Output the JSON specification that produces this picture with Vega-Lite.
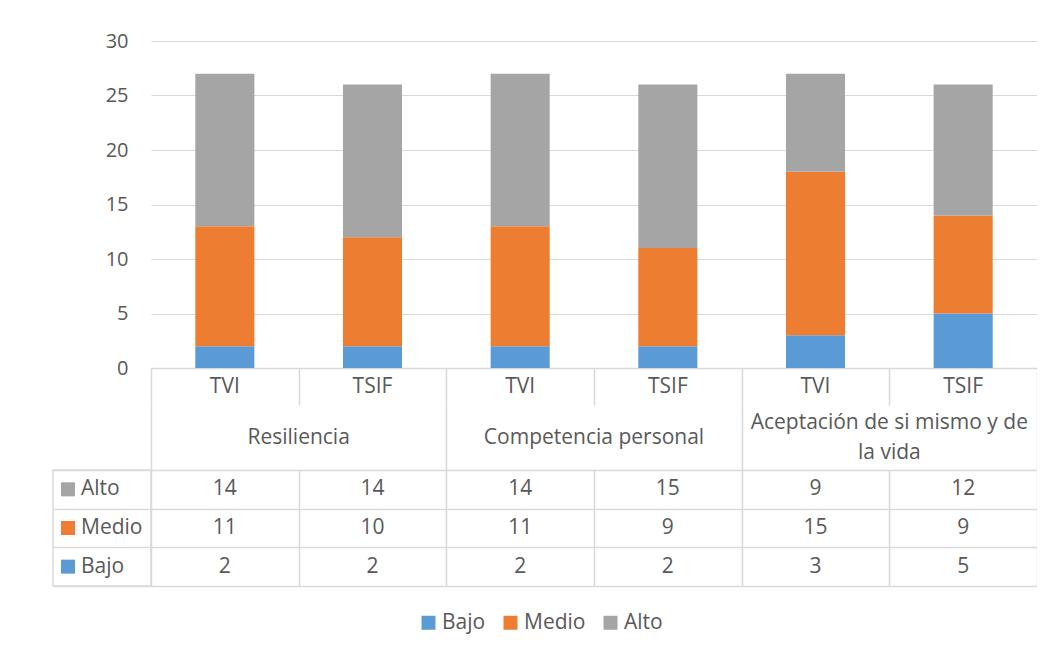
{
  "$schema": "https://vega.github.io/schema/vega-lite/v6.json",
  "background": "white",
  "padding": {"left": 52, "top": 31, "right": 0, "bottom": 20},
  "config": {
    "font": "Open Sans",
    "view": {"stroke": null},
    "text": {"font": "Open Sans", "fontSize": 21, "color": "#595959"},
    "axis": {"labelFont": "Open Sans", "labelFontSize": 20, "labelColor": "#595959", "gridColor": "#d9d9d9", "domainColor": "#d9d9d9"}
  },
  "datasets": {
    "d": [
      {"dimension": "Resiliencia", "grupo": "TVI", "nivel": "Bajo", "valor": 2},
      {"dimension": "Resiliencia", "grupo": "TVI", "nivel": "Medio", "valor": 11},
      {"dimension": "Resiliencia", "grupo": "TVI", "nivel": "Alto", "valor": 14},
      {"dimension": "Resiliencia", "grupo": "TSIF", "nivel": "Bajo", "valor": 2},
      {"dimension": "Resiliencia", "grupo": "TSIF", "nivel": "Medio", "valor": 10},
      {"dimension": "Resiliencia", "grupo": "TSIF", "nivel": "Alto", "valor": 14},
      {"dimension": "Competencia personal", "grupo": "TVI", "nivel": "Bajo", "valor": 2},
      {"dimension": "Competencia personal", "grupo": "TVI", "nivel": "Medio", "valor": 11},
      {"dimension": "Competencia personal", "grupo": "TVI", "nivel": "Alto", "valor": 14},
      {"dimension": "Competencia personal", "grupo": "TSIF", "nivel": "Bajo", "valor": 2},
      {"dimension": "Competencia personal", "grupo": "TSIF", "nivel": "Medio", "valor": 9},
      {"dimension": "Competencia personal", "grupo": "TSIF", "nivel": "Alto", "valor": 15},
      {"dimension": "Aceptación de si mismo y de la vida", "grupo": "TVI", "nivel": "Bajo", "valor": 3},
      {"dimension": "Aceptación de si mismo y de la vida", "grupo": "TVI", "nivel": "Medio", "valor": 15},
      {"dimension": "Aceptación de si mismo y de la vida", "grupo": "TVI", "nivel": "Alto", "valor": 9},
      {"dimension": "Aceptación de si mismo y de la vida", "grupo": "TSIF", "nivel": "Bajo", "valor": 5},
      {"dimension": "Aceptación de si mismo y de la vida", "grupo": "TSIF", "nivel": "Medio", "valor": 9},
      {"dimension": "Aceptación de si mismo y de la vida", "grupo": "TSIF", "nivel": "Alto", "valor": 12}
    ]
  },
  "columns": 2,
  "spacing": 0,
  "bounds": "flush",
  "align": "each",
  "resolve": {"scale": {"color": "independent"}, "legend": {"color": "independent"}},
  "concat": [
    {"width": 98, "height": 327, "data": {"values": []}, "mark": "text", "encoding": {}},
    {
      "width": 886, "height": 327,
      "data": {"name": "d"},
      "transform": [
        {"calculate": "datum.dimension + ' · ' + datum.grupo", "as": "key"},
        {"calculate": "indexof(['Bajo','Medio','Alto'], datum.nivel)", "as": "orden"}
      ],
      "mark": {"type": "bar", "width": {"band": 0.4}},
      "encoding": {
        "x": {"field": "key", "type": "nominal", "sort": null, "scale": {"paddingInner": 0, "paddingOuter": 0},
              "axis": {"title": null, "labels": false, "ticks": false, "domain": true, "domainWidth": 1.5, "grid": false}},
        "y": {"field": "valor", "type": "quantitative", "stack": "zero", "scale": {"domain": [0, 30]},
              "axis": {"title": null, "values": [0, 5, 10, 15, 20, 25, 30], "domain": false, "ticks": false, "tickSize": 0, "labelPadding": 23, "grid": true, "gridWidth": 1}},
        "color": {"field": "nivel", "type": "nominal",
                  "scale": {"domain": ["Bajo", "Medio", "Alto"], "range": ["#5b9bd5", "#ed7d31", "#a5a5a5"]},
                  "legend": {"title": null, "orient": "none", "legendX": 267, "legendY": 571, "direction": "horizontal",
                             "symbolType": "square", "symbolSize": 196, "symbolStrokeWidth": 0, "labelFontSize": 21,
                             "labelColor": "#595959", "labelFont": "Open Sans", "labelOffset": 3, "columnPadding": 14, "padding": 0}},
        "order": {"field": "orden", "type": "quantitative"}
      }
    },
    {"width": 98, "height": 37, "data": {"values": []}, "mark": "text", "encoding": {}},
    {
      "width": 886, "height": 37,
      "data": {"name": "d"},
      "transform": [
        {"filter": "datum.nivel === 'Bajo'"},
        {"calculate": "datum.dimension + ' · ' + datum.grupo", "as": "key"}
      ],
      "mark": {"type": "text"},
      "encoding": {
        "x": {"field": "key", "type": "nominal", "sort": null, "scale": {"paddingInner": 0, "paddingOuter": 0},
              "axis": {"title": null, "labels": false, "ticks": false, "domain": false, "grid": true, "tickBand": "extent", "gridWidth": 1.5}},
        "text": {"field": "grupo", "type": "nominal"}
      }
    },
    {"width": 98, "height": 65, "data": {"values": []}, "mark": "text", "encoding": {}},
    {
      "width": 886, "height": 65,
      "data": {"name": "d"},
      "transform": [
        {"filter": "datum.nivel === 'Bajo' && datum.grupo === 'TVI'"},
        {"calculate": "replace(datum.dimension, 'y de la vida', 'y de\\nla vida')", "as": "etiqueta"},
        {"calculate": "indexof(datum.etiqueta, '\\n') >= 0", "as": "multilinea"}
      ],
      "encoding": {
        "x": {"field": "dimension", "type": "nominal", "sort": null, "scale": {"paddingInner": 0, "paddingOuter": 0},
              "axis": {"title": null, "labels": false, "ticks": false, "domain": false, "grid": true, "tickBand": "extent", "gridWidth": 1.5}},
        "text": {"field": "etiqueta", "type": "nominal"}
      },
      "layer": [
        {"transform": [{"filter": "!datum.multilinea"}], "mark": {"type": "text"}},
        {"transform": [{"filter": "datum.multilinea"}], "mark": {"type": "text", "lineBreak": "\n", "lineHeight": 30, "dy": -15}}
      ]
    },
    {
      "width": 98, "height": 116,
      "data": {"name": "d"},
      "transform": [{"filter": "datum.dimension === 'Resiliencia' && datum.grupo === 'TVI'"}],
      "view": {"stroke": "#d9d9d9", "strokeWidth": 1.5},
      "encoding": {
        "y": {"field": "nivel", "type": "nominal", "sort": ["Alto", "Medio", "Bajo"], "scale": {"paddingInner": 0, "paddingOuter": 0},
              "axis": {"title": null, "labels": false, "ticks": false, "domain": false, "grid": true, "tickBand": "extent", "gridWidth": 1.5}}
      },
      "layer": [
        {"mark": {"type": "square", "size": 196, "opacity": 1, "xOffset": -34},
         "encoding": {"color": {"field": "nivel", "type": "nominal",
                                "scale": {"domain": ["Bajo", "Medio", "Alto"], "range": ["#5b9bd5", "#ed7d31", "#a5a5a5"]}, "legend": null}}},
        {"mark": {"type": "text", "align": "left", "dx": -21},
         "encoding": {"text": {"field": "nivel", "type": "nominal"}}}
      ]
    },
    {
      "width": 886, "height": 116,
      "data": {"name": "d"},
      "transform": [{"calculate": "datum.dimension + ' · ' + datum.grupo", "as": "key"}],
      "mark": {"type": "text"},
      "encoding": {
        "x": {"field": "key", "type": "nominal", "sort": null, "scale": {"paddingInner": 0, "paddingOuter": 0},
              "axis": {"title": null, "labels": false, "ticks": false, "domain": false, "grid": true, "tickBand": "extent", "gridWidth": 1.5}},
        "y": {"field": "nivel", "type": "nominal", "sort": ["Alto", "Medio", "Bajo"], "scale": {"paddingInner": 0, "paddingOuter": 0},
              "axis": {"title": null, "labels": false, "ticks": false, "domain": false, "grid": true, "tickBand": "extent", "gridWidth": 1.5}},
        "text": {"field": "valor", "type": "quantitative"}
      }
    }
  ]
}
